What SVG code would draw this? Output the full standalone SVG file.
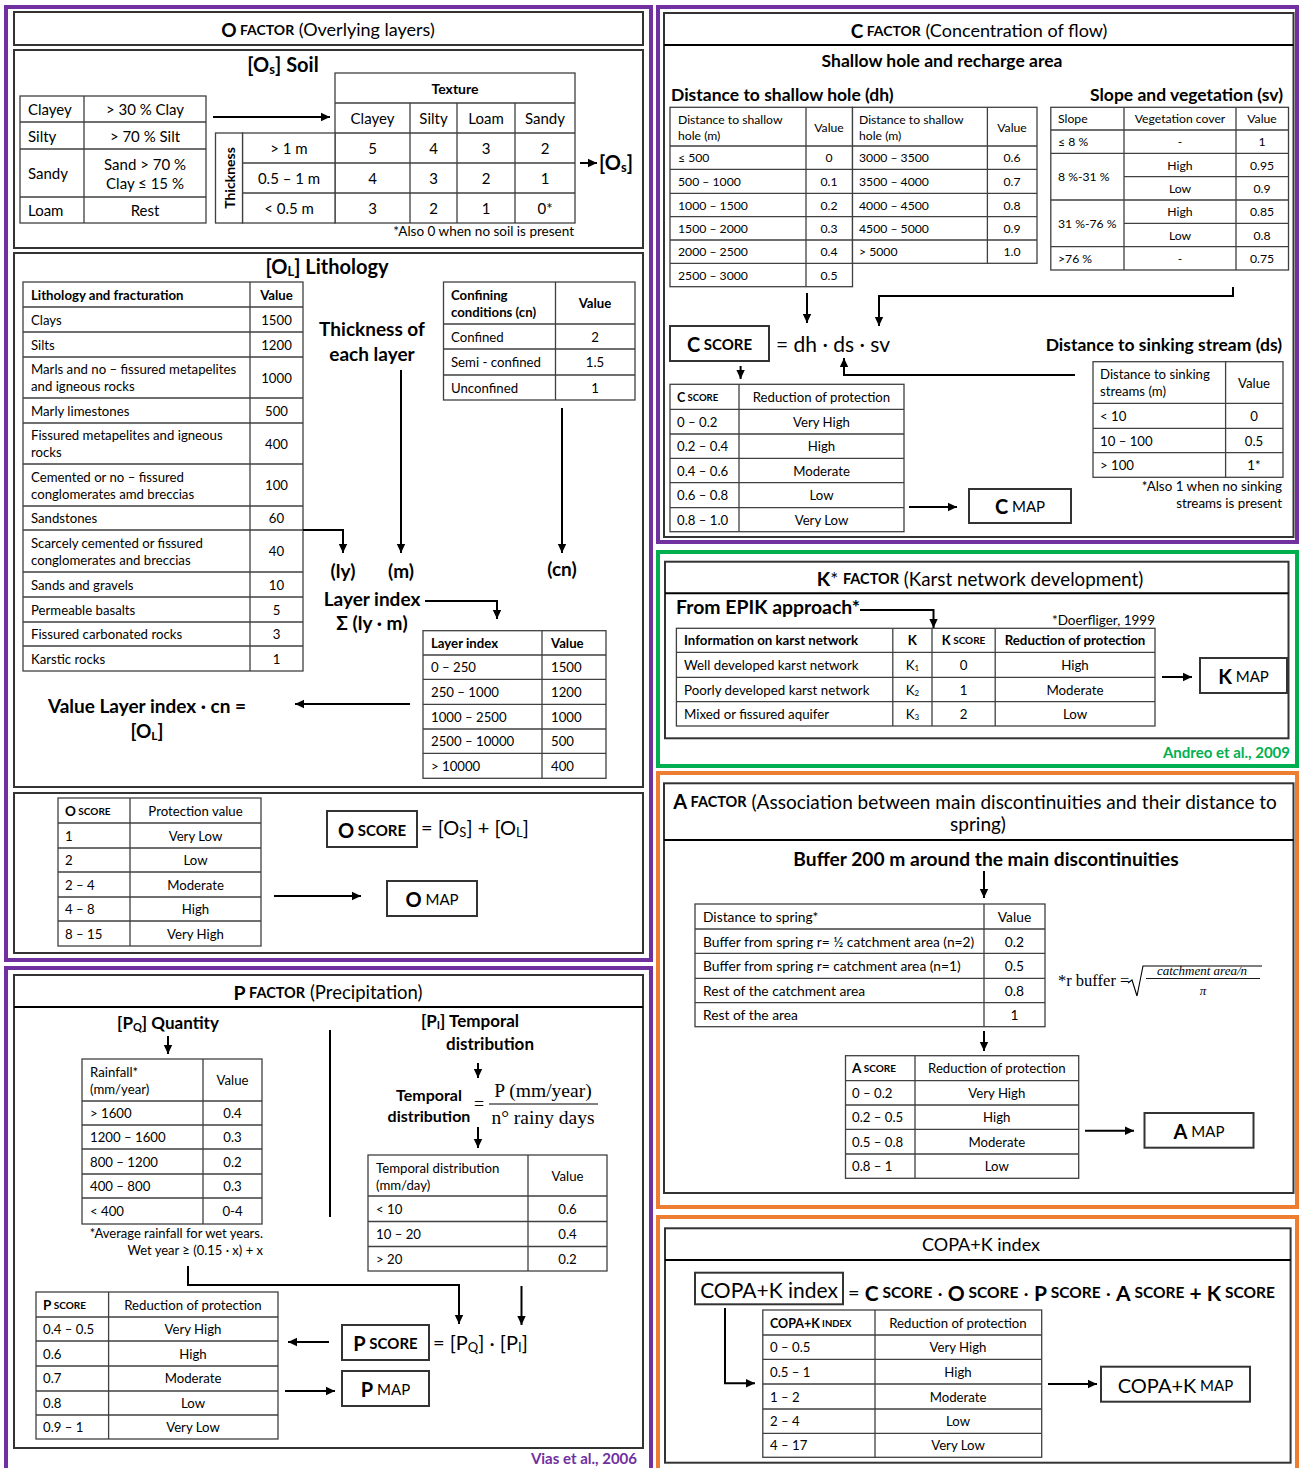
<svg xmlns="http://www.w3.org/2000/svg" width="1299" height="1468" viewBox="0 0 1299 1468">
<defs>
<marker id="ah" markerUnits="userSpaceOnUse" markerWidth="10" markerHeight="10" refX="9" refY="5" orient="auto"><path d="M0,0.8 L9,5 L0,9.2 z" fill="#000"/></marker>
<style>
text{font-family:Lato,"Liberation Sans",sans-serif;fill:#000;dominant-baseline:central}
.fr{fill:none;stroke-width:4}
.bx{fill:#fff;stroke:#333;stroke-width:2}
.tb{fill:#fff;stroke:#404040;stroke-width:1.3}
.gl{fill:none;stroke:#404040;stroke-width:1.3}
.cn{fill:none;stroke:#000;stroke-width:2}
.ca{fill:none;stroke:#000;stroke-width:2;marker-end:url(#ah)}
.m{text-anchor:middle}
.e{text-anchor:end}
.b{font-weight:bold}
.s15{font-size:15px}
.s14{font-size:14px}
.s13{font-size:13.2px}
.s133{font-size:13.3px}
.s138{font-size:13.8px}
.s122{font-size:12.2px}
.n13{font-size:13.4px}
.h19{font-size:19px;font-weight:bold}
.h175{font-size:17.5px;font-weight:bold}
.h17{font-size:17px;font-weight:bold}
.t18{font-size:18px}
.sr{font-family:"Liberation Serif",serif}
</style>
</defs>

<!-- ============ FRAMES ============ -->
<g id="frames">
<rect class="fr" x="6" y="7" width="645" height="953" stroke="#7030A0"/>
<rect class="fr" x="6" y="968" width="645" height="530" stroke="#7030A0"/>
<rect class="fr" x="658" y="7" width="639" height="535" stroke="#7030A0"/>
<rect class="fr" x="658" y="552" width="639" height="214" stroke="#00B050"/>
<rect class="fr" x="658" y="773" width="639" height="434" stroke="#ED7D31"/>
<rect class="fr" x="658" y="1217" width="639" height="280" stroke="#ED7D31"/>
</g>

<!-- ============ O FACTOR ============ -->
<g id="o-title">
<rect class="bx" x="14" y="12" width="629" height="33"/>
<text class="m t18" x="328" y="29"><tspan class="b" font-size="19">O</tspan><tspan class="b" font-size="14"> FACTOR</tspan> (Overlying layers)</text>
</g>
<g id="o-soil-box">
<rect class="bx" x="14" y="50" width="629" height="198"/>
<text class="m b" font-size="20" x="283" y="64">[O<tspan font-size="13" dy="5">s</tspan><tspan dy="-5">] Soil</tspan></text>
</g>
<g id="soil-classes">
<rect class="tb" x="20" y="96" width="186" height="127"/>
<path class="gl" d="M84,96V223 M20,122H206 M20,149H206 M20,197H206"/>
<text class="s15" x="28" y="109">Clayey</text>
<text class="s15 m" x="145" y="109">&gt; 30 % Clay</text>
<text class="s15" x="28" y="135.5">Silty</text>
<text class="s15 m" x="145" y="135.5">&gt; 70 % Silt</text>
<text class="s15" x="28" y="173">Sandy</text>
<text class="s15 m" x="145" y="164">Sand &gt; 70 %</text>
<text class="s15 m" x="145" y="183">Clay ≤ 15 %</text>
<text class="s15" x="28" y="210">Loam</text>
<text class="s15 m" x="145" y="210">Rest</text>
</g>
<g id="texture-table">
<rect class="tb" x="335" y="73" width="240" height="150"/>
<rect class="tb" x="242.5" y="133" width="92.5" height="90"/>
<rect class="tb" x="215.5" y="133" width="27" height="90"/>
<path class="gl" d="M335,103H575 M335,133H575 M242.5,163H575 M242.5,193H575 M410,103V223 M457,103V223 M515,103V223"/>
<text class="s14 m b" x="455" y="88">Texture</text>
<text class="s15 m" x="372.5" y="118">Clayey</text>
<text class="s15 m" x="433.5" y="118">Silty</text>
<text class="s15 m" x="486" y="118">Loam</text>
<text class="s15 m" x="545" y="118">Sandy</text>
<text class="s14 m b" x="229" y="178" transform="rotate(-90 229 178)">Thickness</text>
<text class="s15 m" x="289" y="148">&gt; 1 m</text>
<text class="s15 m" x="289" y="178">0.5 – 1 m</text>
<text class="s15 m" x="289" y="208">&lt; 0.5 m</text>
<text class="s15 m" x="372.5" y="148">5</text><text class="s15 m" x="433.5" y="148">4</text><text class="s15 m" x="486" y="148">3</text><text class="s15 m" x="545" y="148">2</text>
<text class="s15 m" x="372.5" y="178">4</text><text class="s15 m" x="433.5" y="178">3</text><text class="s15 m" x="486" y="178">2</text><text class="s15 m" x="545" y="178">1</text>
<text class="s15 m" x="372.5" y="208">3</text><text class="s15 m" x="433.5" y="208">2</text><text class="s15 m" x="486" y="208">1</text><text class="s15 m" x="545" y="208">0*</text>
<text class="e" font-size="13.5" x="574" y="231">*Also 0 when no soil is present</text>
</g>
<g id="os-label">
<text class="b" font-size="20" x="599" y="162">[O<tspan font-size="13" dy="5">s</tspan><tspan dy="-5">]</tspan></text>
</g>

<g id="o-litho-box">
<rect class="bx" x="14" y="253" width="629" height="534"/>
<text class="m b" font-size="20" x="327" y="266">[O<tspan font-size="13" dy="5">L</tspan><tspan dy="-5">] Lithology</tspan></text>
</g>
<g id="lithology-table">
<rect class="tb" x="23" y="282" width="280" height="389"/>
<path class="gl" d="M250,282V671 M23,307H303 M23,332H303 M23,357H303 M23,398H303 M23,423H303 M23,464H303 M23,506H303 M23,530H303 M23,572H303 M23,597H303 M23,622H303 M23,646H303"/>
<text class="s13 b" x="31" y="294.5">Lithology and fracturation</text>
<text class="s13 b m" x="276.5" y="294.5">Value</text>
<text class="s13" x="31" y="319.5">Clays</text><text class="s13 m" x="276.5" y="319.5">1500</text>
<text class="s13" x="31" y="344.5">Silts</text><text class="s13 m" x="276.5" y="344.5">1200</text>
<text class="s13" x="31" y="369">Marls and no – fissured metapelites</text>
<text class="s13" x="31" y="386">and igneous rocks</text><text class="s13 m" x="276.5" y="377.5">1000</text>
<text class="s13" x="31" y="410.5">Marly limestones</text><text class="s13 m" x="276.5" y="410.5">500</text>
<text class="s13" x="31" y="435">Fissured metapelites and igneous</text>
<text class="s13" x="31" y="452">rocks</text><text class="s13 m" x="276.5" y="443.5">400</text>
<text class="s13" x="31" y="477">Cemented or no – fissured</text>
<text class="s13" x="31" y="494">conglomerates amd breccias</text><text class="s13 m" x="276.5" y="485">100</text>
<text class="s13" x="31" y="518">Sandstones</text><text class="s13 m" x="276.5" y="518">60</text>
<text class="s13" x="31" y="543">Scarcely cemented or fissured</text>
<text class="s13" x="31" y="560">conglomerates and breccias</text><text class="s13 m" x="276.5" y="551">40</text>
<text class="s13" x="31" y="584.5">Sands and gravels</text><text class="s13 m" x="276.5" y="584.5">10</text>
<text class="s13" x="31" y="609.5">Permeable basalts</text><text class="s13 m" x="276.5" y="609.5">5</text>
<text class="s13" x="31" y="634">Fissured carbonated rocks</text><text class="s13 m" x="276.5" y="634">3</text>
<text class="s13" x="31" y="658.5">Karstic rocks</text><text class="s13 m" x="276.5" y="658.5">1</text>
</g>
<g id="confining-table">
<rect class="tb" x="443.5" y="282" width="191.5" height="118"/>
<path class="gl" d="M555.5,282V400 M443.5,324H635 M443.5,349H635 M443.5,375H635"/>
<text class="s13 b" x="451" y="295">Confining</text>
<text class="s13 b" x="451" y="312">conditions (cn)</text>
<text class="s13 b m" x="595" y="303">Value</text>
<text class="s13" x="451" y="336.5">Confined</text><text class="s13 m" x="595" y="336.5">2</text>
<text class="s13" x="451" y="362">Semi - confined</text><text class="s13 m" x="595" y="362">1.5</text>
<text class="s13" x="451" y="387.5">Unconfined</text><text class="s13 m" x="595" y="387.5">1</text>
</g>
<g id="thickness-label">
<text class="h19 m" x="372" y="328">Thickness of</text>
<text class="h19 m" x="372" y="353">each layer</text>
</g>
<g id="ly-m-cn-labels">
<text class="h19 m" x="343" y="570">(ly)</text>
<text class="h19 m" x="401" y="570">(m)</text>
<text class="h19 m" x="562" y="568">(cn)</text>
</g>
<g id="layer-index-label">
<text class="h19 m" x="372" y="598">Layer index</text>
<text class="h19 m" x="372" y="622">Σ (ly · m)</text>
</g>
<g id="layer-index-table">
<rect class="tb" x="423" y="630.7" width="183" height="147.6"/>
<path class="gl" d="M542,630.7V778.3 M423,655H606 M423,679.3H606 M423,704.3H606 M423,729H606 M423,753.3H606"/>
<text class="s13 b" x="431" y="643">Layer index</text><text class="s13 b" x="551" y="643">Value</text>
<text class="s13" x="431" y="667">0 – 250</text><text class="s13" x="551" y="667">1500</text>
<text class="s13" x="431" y="691.8">250 – 1000</text><text class="s13" x="551" y="691.8">1200</text>
<text class="s13" x="431" y="716.7">1000 – 2500</text><text class="s13" x="551" y="716.7">1000</text>
<text class="s13" x="431" y="741.2">2500 – 10000</text><text class="s13" x="551" y="741.2">500</text>
<text class="s13" x="431" y="765.8">&gt; 10000</text><text class="s13" x="551" y="765.8">400</text>
</g>
<g id="ol-result">
<text class="h19 m" x="147" y="705">Value Layer index · cn =</text>
<text class="h19 m" x="147" y="730">[O<tspan font-size="12" dy="5">L</tspan><tspan dy="-5">]</tspan></text>
</g>

<g id="o-score-box">
<rect class="bx" x="14" y="793" width="629" height="160"/>
</g>
<g id="o-score-table">
<rect class="tb" x="58" y="798" width="203" height="148"/>
<path class="gl" d="M130,798V946 M58,823H261 M58,848H261 M58,872H261 M58,897H261 M58,921H261"/>
<text x="65" y="810.5"><tspan class="b" font-size="13.5">O</tspan><tspan font-size="10" class="b"> SCORE</tspan></text>
<text class="s13 m" x="195.5" y="810.5">Protection value</text>
<text class="s13" x="65" y="835.5">1</text><text class="s13 m" x="195.5" y="835.5">Very Low</text>
<text class="s13" x="65" y="860">2</text><text class="s13 m" x="195.5" y="860">Low</text>
<text class="s13" x="65" y="884.5">2 – 4</text><text class="s13 m" x="195.5" y="884.5">Moderate</text>
<text class="s13" x="65" y="909">4 – 8</text><text class="s13 m" x="195.5" y="909">High</text>
<text class="s13" x="65" y="933.5">8 – 15</text><text class="s13 m" x="195.5" y="933.5">Very High</text>
</g>
<g id="o-score-eq">
<rect class="bx" x="327" y="811" width="90" height="36"/>
<text class="m" x="372" y="829.5"><tspan class="b" font-size="20">O</tspan><tspan class="b" font-size="15"> SCORE</tspan></text>
<text font-size="20" x="421" y="827">= [O<tspan font-size="13" dy="5">S</tspan><tspan dy="-5">] + [O</tspan><tspan font-size="13" dy="5">L</tspan><tspan dy="-5">]</tspan></text>
</g>
<g id="o-map">
<rect class="bx" x="387" y="881" width="90" height="35"/>
<text class="m" x="432" y="899"><tspan font-size="20" class="b">O</tspan><tspan font-size="15"> MAP</tspan></text>
</g>

<!-- ============ P FACTOR ============ -->
<g id="p-box">
<rect class="bx" x="14" y="975" width="629" height="473"/>
<path class="cn" stroke="#333" d="M14,1007H643"/>
<text class="m" font-size="18.5" x="328" y="992"><tspan class="b" font-size="19.5">P</tspan><tspan class="b" font-size="14.5"> FACTOR</tspan> (Precipitation)</text>
</g>
<g id="pq-label">
<text class="h17 m" x="168" y="1022">[P<tspan font-size="11" dy="4">Q</tspan><tspan dy="-4">] Quantity</tspan></text>
</g>
<g id="rainfall-table">
<rect class="tb" x="82" y="1059" width="180" height="165"/>
<path class="gl" d="M203,1059V1224 M82,1101H262 M82,1125H262 M82,1149H262 M82,1174H262 M82,1198H262"/>
<text class="s13" x="90" y="1072">Rainfall*</text>
<text class="s13" x="90" y="1089">(mm/year)</text>
<text class="s13 m" x="232.5" y="1080">Value</text>
<text class="s13" x="90" y="1113">&gt; 1600</text><text class="s13 m" x="232.5" y="1113">0.4</text>
<text class="s13" x="90" y="1137">1200 – 1600</text><text class="s13 m" x="232.5" y="1137">0.3</text>
<text class="s13" x="90" y="1161.5">800 – 1200</text><text class="s13 m" x="232.5" y="1161.5">0.2</text>
<text class="s13" x="90" y="1186">400 – 800</text><text class="s13 m" x="232.5" y="1186">0.3</text>
<text class="s13" x="90" y="1211">&lt; 400</text><text class="s13 m" x="232.5" y="1211">0-4</text>
<text class="e" font-size="13" x="263" y="1233">*Average rainfall for wet years.</text>
<text class="e" font-size="13" x="263" y="1250">Wet year ≥ (0.15 · x) + x</text>
</g>
<g id="pi-label">
<text class="h17 m" x="470" y="1020">[P<tspan font-size="11" dy="4">I</tspan><tspan dy="-4">] Temporal</tspan></text>
<text class="h17 m" x="490" y="1043">distribution</text>
</g>
<g id="temporal-formula">
<text class="m b" font-size="16" x="429" y="1094">Temporal</text>
<text class="m b" font-size="16" x="429" y="1115">distribution</text>
<text class="sr" font-size="18" x="474" y="1104">=</text>
<text class="sr m" font-size="19.5" x="543" y="1090">P (mm/year)</text>
<path fill="none" stroke="#000" stroke-width="1" d="M489,1104H598"/>
<text class="sr m" font-size="19.5" x="543" y="1117">n° rainy days</text>
</g>
<g id="temporal-table">
<rect class="tb" x="368" y="1155" width="239" height="116"/>
<path class="gl" d="M528,1155V1271 M368,1196H607 M368,1221.5H607 M368,1246.5H607"/>
<text class="s13" x="376" y="1168">Temporal distribution</text>
<text class="s13" x="376" y="1185">(mm/day)</text>
<text class="s13 m" x="567.5" y="1176">Value</text>
<text class="s13" x="376" y="1209">&lt; 10</text><text class="s13 m" x="567.5" y="1209">0.6</text>
<text class="s13" x="376" y="1234">10 – 20</text><text class="s13 m" x="567.5" y="1234">0.4</text>
<text class="s13" x="376" y="1259">&gt; 20</text><text class="s13 m" x="567.5" y="1259">0.2</text>
</g>
<g id="p-score-table">
<rect class="tb" x="36" y="1292" width="242" height="147"/>
<path class="gl" d="M108.6,1292V1439 M36,1317H278 M36,1341H278 M36,1366H278 M36,1391H278 M36,1415H278"/>
<text x="43" y="1304.5"><tspan class="b" font-size="13.5">P</tspan><tspan font-size="10" class="b"> SCORE</tspan></text>
<text class="s13 m" x="193" y="1304.5">Reduction of protection</text>
<text class="s13" x="43" y="1329">0.4 – 0.5</text><text class="s13 m" x="193" y="1329">Very High</text>
<text class="s13" x="43" y="1353.5">0.6</text><text class="s13 m" x="193" y="1353.5">High</text>
<text class="s13" x="43" y="1378">0.7</text><text class="s13 m" x="193" y="1378">Moderate</text>
<text class="s13" x="43" y="1403">0.8</text><text class="s13 m" x="193" y="1403">Low</text>
<text class="s13" x="43" y="1427">0.9 – 1</text><text class="s13 m" x="193" y="1427">Very Low</text>
</g>
<g id="p-score-eq">
<rect class="bx" x="342" y="1325" width="87" height="35"/>
<text class="m" x="385.5" y="1343"><tspan class="b" font-size="20">P</tspan><tspan class="b" font-size="15"> SCORE</tspan></text>
<text font-size="20" x="433" y="1342">= [P<tspan font-size="13" dy="5">Q</tspan><tspan dy="-5">]  · [P</tspan><tspan font-size="13" dy="5">I</tspan><tspan dy="-5">]</tspan></text>
</g>
<g id="p-map">
<rect class="bx" x="342" y="1371" width="87" height="35"/>
<text class="m" x="385.5" y="1389"><tspan font-size="20" class="b">P</tspan><tspan font-size="15"> MAP</tspan></text>
</g>
<g id="p-ref">
<text class="e b" font-size="15" style="fill:#7030A0" x="637" y="1458">Vias et al., 2006</text>
</g>

<!-- ============ C FACTOR ============ -->
<g id="c-box">
<rect class="bx" x="664" y="13" width="629.5" height="524"/>
<path class="cn" stroke="#333" d="M664,45H1293.5"/>
<text class="m t18" x="979" y="30"><tspan class="b" font-size="19">C</tspan><tspan class="b" font-size="14"> FACTOR</tspan> (Concentration of flow)</text>
<text class="m h175" x="942" y="60">Shallow hole and recharge area</text>
<text class="h175" x="671" y="94">Distance to shallow hole (dh)</text>
<text class="e h175" x="1283" y="94">Slope and vegetation (sv)</text>
</g>
<g id="dh-table">
<rect class="tb" x="670" y="107.3" width="182.5" height="179.4"/>
<rect class="tb" x="852.5" y="107.3" width="184.5" height="156"/>
<path class="gl" d="M806,107.3V286.7 M987.4,107.3V263.3 M670,146H1037 M670,169.3H1037 M670,193.3H1037 M670,216.7H1037 M670,240H1037 M670,263.3H852.5"/>
<text class="s122" x="678" y="119">Distance to shallow</text>
<text class="s122" x="678" y="135.5">hole (m)</text>
<text class="s122 m" x="829" y="127">Value</text>
<text class="s122" x="859" y="119">Distance to shallow</text>
<text class="s122" x="859" y="135.5">hole (m)</text>
<text class="s122 m" x="1012" y="127">Value</text>
<text class="s122" x="678" y="157.7">≤ 500</text><text class="s122 m" x="829" y="157.7">0</text><text class="s122" x="859" y="157.7">3000 – 3500</text><text class="s122 m" x="1012" y="157.7">0.6</text>
<text class="s122" x="678" y="181.3">500 – 1000</text><text class="s122 m" x="829" y="181.3">0.1</text><text class="s122" x="859" y="181.3">3500 – 4000</text><text class="s122 m" x="1012" y="181.3">0.7</text>
<text class="s122" x="678" y="205">1000 – 1500</text><text class="s122 m" x="829" y="205">0.2</text><text class="s122" x="859" y="205">4000 – 4500</text><text class="s122 m" x="1012" y="205">0.8</text>
<text class="s122" x="678" y="228.3">1500 – 2000</text><text class="s122 m" x="829" y="228.3">0.3</text><text class="s122" x="859" y="228.3">4500 – 5000</text><text class="s122 m" x="1012" y="228.3">0.9</text>
<text class="s122" x="678" y="251.7">2000 – 2500</text><text class="s122 m" x="829" y="251.7">0.4</text><text class="s122" x="859" y="251.7">&gt; 5000</text><text class="s122 m" x="1012" y="251.7">1.0</text>
<text class="s122" x="678" y="275">2500 – 3000</text><text class="s122 m" x="829" y="275">0.5</text>
</g>
<g id="sv-table">
<rect class="tb" x="1050.8" y="107.3" width="237.7" height="162.7"/>
<path class="gl" d="M1124,107.3V270 M1236,107.3V270 M1050.8,130H1288.5 M1050.8,153.3H1288.5 M1124,176.7H1288.5 M1050.8,200H1288.5 M1124,223.3H1288.5 M1050.8,246.7H1288.5"/>
<text class="s122" x="1058" y="118.7">Slope</text><text class="s122 m" x="1180" y="118.7">Vegetation cover</text><text class="s122 m" x="1262" y="118.7">Value</text>
<text class="s122" x="1058" y="141.7">≤ 8 %</text><text class="s122 m" x="1180" y="141.7">-</text><text class="s122 m" x="1262" y="141.7">1</text>
<text class="s122" x="1058" y="176.7">8 %-31 %</text>
<text class="s122 m" x="1180" y="165">High</text><text class="s122 m" x="1262" y="165">0.95</text>
<text class="s122 m" x="1180" y="188.3">Low</text><text class="s122 m" x="1262" y="188.3">0.9</text>
<text class="s122" x="1058" y="223.3">31 %-76 %</text>
<text class="s122 m" x="1180" y="211.7">High</text><text class="s122 m" x="1262" y="211.7">0.85</text>
<text class="s122 m" x="1180" y="235">Low</text><text class="s122 m" x="1262" y="235">0.8</text>
<text class="s122" x="1058" y="258.3">&gt;76 %</text><text class="s122 m" x="1180" y="258.3">-</text><text class="s122 m" x="1262" y="258.3">0.75</text>
</g>
<g id="c-score-eq">
<rect class="bx" x="670" y="326" width="99" height="35"/>
<text class="m" x="719.5" y="344"><tspan class="b" font-size="20">C</tspan><tspan class="b" font-size="15"> SCORE</tspan></text>
<text font-size="21" x="776" y="343">= dh · ds · sv</text>
</g>
<g id="ds-label">
<text class="e h175" x="1282" y="344">Distance to sinking stream (ds)</text>
</g>
<g id="ds-table">
<rect class="tb" x="1093" y="361.7" width="190" height="115.6"/>
<path class="gl" d="M1225.6,361.7V477.3 M1093,403.3H1283 M1093,428.3H1283 M1093,452.7H1283"/>
<text class="s13" x="1100" y="374">Distance to sinking</text>
<text class="s13" x="1100" y="391">streams (m)</text>
<text class="s13 m" x="1254" y="382.5">Value</text>
<text class="s13" x="1100" y="415.8">&lt; 10</text><text class="s13 m" x="1254" y="415.8">0</text>
<text class="s13" x="1100" y="440.5">10 – 100</text><text class="s13 m" x="1254" y="440.5">0.5</text>
<text class="s13" x="1100" y="465">&gt; 100</text><text class="s13 m" x="1254" y="465">1*</text>
<text class="n13 e" x="1282" y="486">*Also 1 when no sinking</text>
<text class="n13 e" x="1282" y="503">streams is present</text>
</g>
<g id="c-score-table">
<rect class="tb" x="670" y="384.3" width="234" height="147.4"/>
<path class="gl" d="M739,384.3V531.7 M670,409.3H904 M670,434H904 M670,458.3H904 M670,482.7H904 M670,507.7H904"/>
<text x="677" y="397"><tspan class="b" font-size="12.5">C</tspan><tspan font-size="9.5" class="b"> SCORE</tspan></text>
<text class="s13 m" x="821.5" y="397">Reduction of protection</text>
<text class="s13" x="677" y="421.7">0 – 0.2</text><text class="s13 m" x="821.5" y="421.7">Very High</text>
<text class="s13" x="677" y="446">0.2 – 0.4</text><text class="s13 m" x="821.5" y="446">High</text>
<text class="s13" x="677" y="470.5">0.4 – 0.6</text><text class="s13 m" x="821.5" y="470.5">Moderate</text>
<text class="s13" x="677" y="495.2">0.6 – 0.8</text><text class="s13 m" x="821.5" y="495.2">Low</text>
<text class="s13" x="677" y="519.7">0.8 – 1.0</text><text class="s13 m" x="821.5" y="519.7">Very Low</text>
</g>
<g id="c-map">
<rect class="bx" x="969" y="489" width="102" height="34"/>
<text class="m" x="1020" y="506"><tspan font-size="20" class="b">C</tspan><tspan font-size="15"> MAP</tspan></text>
</g>

<!-- ============ K FACTOR ============ -->
<g id="k-box">
<rect class="bx" x="665" y="561.7" width="623.5" height="176.6"/>
<path class="cn" stroke="#333" d="M665,593.3H1288.5"/>
<text class="m" font-size="18.8" x="980" y="578"><tspan class="b" font-size="19.5">K</tspan>* <tspan class="b" font-size="14.5">FACTOR</tspan> (Karst network development)</text>
<text class="b" font-size="19.4" x="676" y="606">From EPIK approach*</text>
<text class="e" font-size="13.5" x="1155" y="620">*Doerfliger, 1999</text>
</g>
<g id="k-table">
<rect class="tb" x="676.4" y="628.3" width="478.6" height="97.7"/>
<path class="gl" d="M892.8,628.3V726 M932,628.3V726 M995.2,628.3V726 M676.4,652.3H1155 M676.4,677.3H1155 M676.4,701.7H1155"/>
<text class="s133 b" x="684" y="640.3">Information on karst network</text>
<text class="s133 b m" x="912.4" y="640.3">K</text>
<text class="m" x="963.6" y="640.3"><tspan class="b" font-size="13">K</tspan><tspan font-size="10" class="b"> SCORE</tspan></text>
<text class="s133 b m" x="1075" y="640.3">Reduction of protection</text>
<text class="s133" x="684" y="664.8">Well developed karst network</text>
<text class="s133 m" x="912.4" y="664.8">K<tspan font-size="8" dy="3">1</tspan></text>
<text class="s133 m" x="963.6" y="664.8">0</text><text class="s133 m" x="1075" y="664.8">High</text>
<text class="s133" x="684" y="689.5">Poorly developed karst network</text>
<text class="s133 m" x="912.4" y="689.5">K<tspan font-size="8" dy="3">2</tspan></text>
<text class="s133 m" x="963.6" y="689.5">1</text><text class="s133 m" x="1075" y="689.5">Moderate</text>
<text class="s133" x="684" y="713.9">Mixed or fissured aquifer</text>
<text class="s133 m" x="912.4" y="713.9">K<tspan font-size="8" dy="3">3</tspan></text>
<text class="s133 m" x="963.6" y="713.9">2</text><text class="s133 m" x="1075" y="713.9">Low</text>
</g>
<g id="k-map">
<rect class="bx" x="1200" y="658" width="87" height="35"/>
<text class="m" x="1243.5" y="676"><tspan font-size="20" class="b">K</tspan><tspan font-size="15"> MAP</tspan></text>
</g>
<g id="k-ref">
<text class="e b" font-size="15" style="fill:#00B050" x="1290" y="752">Andreo et al., 2009</text>
</g>

<!-- ============ A FACTOR ============ -->
<g id="a-box">
<rect class="bx" x="664" y="783.3" width="629.5" height="409.7"/>
<path class="cn" stroke="#333" d="M664,840H1293.5"/>
<text class="m" font-size="19" x="975" y="801"><tspan class="b" font-size="20">A</tspan><tspan class="b" font-size="14.5"> FACTOR</tspan> (Association between main discontinuities and their distance to</text>
<text class="m" font-size="19" x="978" y="823">spring)</text>
<text class="m b" font-size="19.2" x="986" y="858">Buffer 200 m around the main discontinuities</text>
</g>
<g id="distance-spring-table">
<rect class="tb" x="695" y="904" width="350" height="122.7"/>
<path class="gl" d="M984,904V1026.7 M695,929H1045 M695,953.3H1045 M695,978.3H1045 M695,1002.7H1045"/>
<text class="s138" x="703" y="916.5">Distance to spring*</text><text class="s138 m" x="1014.5" y="916.5">Value</text>
<text class="s138" x="703" y="941.2">Buffer from spring r= ½ catchment area (n=2)</text><text class="s138 m" x="1014.5" y="941.2">0.2</text>
<text class="s138" x="703" y="965.8">Buffer from spring r= catchment area (n=1)</text><text class="s138 m" x="1014.5" y="965.8">0.5</text>
<text class="s138" x="703" y="990.5">Rest of the catchment area</text><text class="s138 m" x="1014.5" y="990.5">0.8</text>
<text class="s138" x="703" y="1014.7">Rest of the area</text><text class="s138 m" x="1014.5" y="1014.7">1</text>
</g>
<g id="r-buffer-formula">
<text class="sr" font-size="16.5" x="1058" y="980">*r buffer =</text>
<path fill="none" stroke="#000" stroke-width="1.1" d="M1128,983 L1132,980 L1137,996 L1143,966 H1262"/>
<text class="sr m" font-size="13" font-style="italic" x="1202" y="970">catchment area/n</text>
<path fill="none" stroke="#000" stroke-width="0.9" d="M1146,978.5H1260"/>
<text class="sr m" font-size="13" font-style="italic" x="1203" y="990">π</text>
</g>
<g id="a-score-table">
<rect class="tb" x="845.5" y="1055.7" width="233.2" height="122.6"/>
<path class="gl" d="M915,1055.7V1178.3 M845.5,1080.7H1078.7 M845.5,1105H1078.7 M845.5,1129.3H1078.7 M845.5,1154H1078.7"/>
<text x="852" y="1068.2"><tspan class="b" font-size="13.5">A</tspan><tspan font-size="10" class="b"> SCORE</tspan></text>
<text class="s13 m" x="996.8" y="1068.2">Reduction of protection</text>
<text class="s13" x="852" y="1092.8">0 – 0.2</text><text class="s13 m" x="996.8" y="1092.8">Very High</text>
<text class="s13" x="852" y="1117.2">0.2 – 0.5</text><text class="s13 m" x="996.8" y="1117.2">High</text>
<text class="s13" x="852" y="1141.7">0.5 – 0.8</text><text class="s13 m" x="996.8" y="1141.7">Moderate</text>
<text class="s13" x="852" y="1166.2">0.8 – 1</text><text class="s13 m" x="996.8" y="1166.2">Low</text>
</g>
<g id="a-map">
<rect class="bx" x="1144.5" y="1113" width="109" height="34.7"/>
<text class="m" x="1199" y="1130.5"><tspan font-size="20" class="b">A</tspan><tspan font-size="15"> MAP</tspan></text>
</g>

<!-- ============ COPA+K ============ -->
<g id="copak-box">
<rect class="bx" x="665" y="1228.3" width="625.6" height="234.4"/>
<path class="cn" stroke="#333" d="M665,1260H1290.6"/>
<text class="m" font-size="18" x="981" y="1244">COPA+K index</text>
</g>
<g id="copak-eq">
<rect class="bx" x="695" y="1272.7" width="148" height="31.6"/>
<text class="m" font-size="21" x="769" y="1289">COPA+K index</text>
<text x="848" y="1291.5" font-size="20">= <tspan class="b" font-size="21">C</tspan><tspan class="b" font-size="15.5"> SCORE</tspan> · <tspan class="b" font-size="21">O</tspan><tspan class="b" font-size="15.5"> SCORE</tspan> · <tspan class="b" font-size="21">P</tspan><tspan class="b" font-size="15.5"> SCORE</tspan> · <tspan class="b" font-size="21">A</tspan><tspan class="b" font-size="15.5"> SCORE</tspan> <tspan class="b" font-size="21">+ K</tspan><tspan class="b" font-size="15.5"> SCORE</tspan></text>
</g>
<g id="copak-table">
<rect class="tb" x="762.8" y="1310" width="278.9" height="147.3"/>
<path class="gl" d="M875,1310V1457.3 M762.8,1335H1041.7 M762.8,1359.3H1041.7 M762.8,1384H1041.7 M762.8,1409H1041.7 M762.8,1433.3H1041.7"/>
<text x="770" y="1322.5"><tspan class="b" font-size="12.5">COPA+K</tspan><tspan font-size="9.5" class="b"> INDEX</tspan></text>
<text class="s13 m" x="958" y="1322.5">Reduction of protection</text>
<text class="s13" x="770" y="1347.2">0 – 0.5</text><text class="s13 m" x="958" y="1347.2">Very High</text>
<text class="s13" x="770" y="1371.7">0.5 – 1</text><text class="s13 m" x="958" y="1371.7">High</text>
<text class="s13" x="770" y="1396.5">1 – 2</text><text class="s13 m" x="958" y="1396.5">Moderate</text>
<text class="s13" x="770" y="1421.2">2 – 4</text><text class="s13 m" x="958" y="1421.2">Low</text>
<text class="s13" x="770" y="1445.3">4 – 17</text><text class="s13 m" x="958" y="1445.3">Very Low</text>
</g>
<g id="copak-map">
<rect class="bx" x="1101" y="1366.7" width="149" height="35"/>
<text class="m" x="1175.5" y="1384.5"><tspan font-size="20">COPA+K</tspan><tspan font-size="15"> MAP</tspan></text>
</g>

<!-- ============ CONNECTORS ============ -->
<g id="connectors">
<path class="ca" d="M213,117H330"/>
<path class="ca" d="M580,163H597"/>
<path class="ca" d="M401,370V553"/>
<path class="ca" d="M562,408V553"/>
<path class="ca" d="M303,530H343V553"/>
<path class="ca" d="M425,601H497V619"/>
<path class="ca" d="M410,704H295"/>
<path class="ca" d="M274,896H361"/>
<path class="ca" d="M168,1036V1054"/>
<path class="cn" d="M330,1030V1217"/>
<path class="ca" d="M478,1063V1078"/>
<path class="ca" d="M478,1127V1148"/>
<path class="ca" d="M188,1266V1285H459V1324"/>
<path class="ca" d="M521.5,1286V1325"/>
<path class="ca" d="M329,1342H288"/>
<path class="ca" d="M285,1391H335"/>
<path class="ca" d="M807,293V323"/>
<path class="ca" d="M1233,287V296H879V326"/>
<path class="ca" d="M1075,375H844V358"/>
<path class="ca" d="M740.6,366V379"/>
<path class="ca" d="M909,507H957"/>
<path class="ca" d="M860,610H933.5V628"/>
<path class="ca" d="M1162,677H1192"/>
<path class="ca" d="M984,871V898"/>
<path class="ca" d="M984,1031V1051"/>
<path class="ca" d="M1085,1130.7H1134"/>
<path class="ca" d="M725,1308V1383.3H755"/>
<path class="ca" d="M1048,1384H1097"/>
</g>
</svg>
